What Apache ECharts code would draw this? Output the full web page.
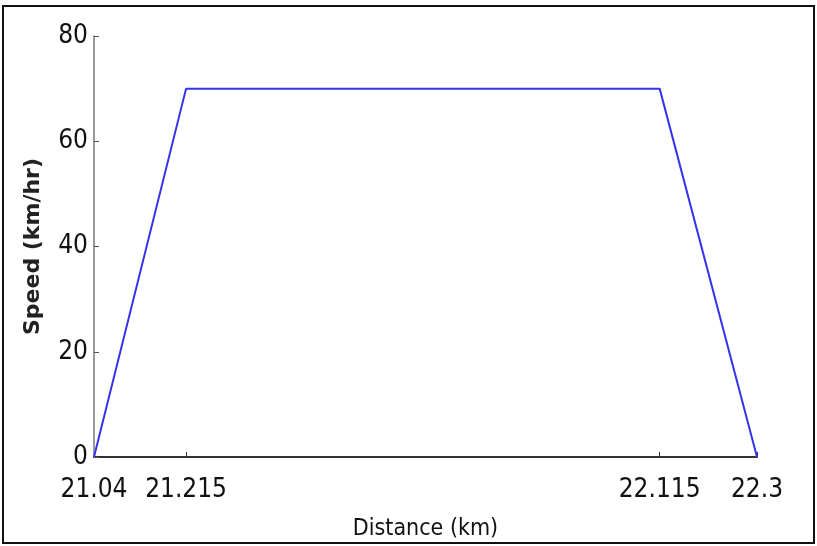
<!DOCTYPE html>
<html>
<head>
<meta charset="utf-8">
<script src="https://cdn.jsdelivr.net/npm/echarts@6/dist/echarts.min.js"></script>
<style>
  html, body { margin: 0; padding: 0; background: #fff; }
  #main { width: 817px; height: 546px; }
</style>
</head>
<body>
<div id="main"></div>
<script>
// values
var distance = [21.04, 21.215, 22.115, 22.3];
var speed = [0, 70, 70, 0];
var xTicks = [21.04, 21.215, 22.115, 22.3];
var yTicks = [0, 20, 40, 60, 80];

var chart = echarts.init(document.getElementById('main'));
var narrow = '"DejaVu Sans Condensed", "Liberation Sans Narrow", "Liberation Sans", Arial, sans-serif';

var pts = distance.map(function (d, i) { return [d, speed[i]]; });

var option = {
    animation: false,
    backgroundColor: '#fff',
    grid: { left: 94, right: 60, top: 36, bottom: 87 },
    xAxis: {
        type: 'value',
        min: 21.04,
        max: 22.3,
        name: 'Distance (km)',
        nameLocation: 'middle',
        nameGap: 61,
        nameTextStyle: { fontFamily: narrow, fontSize: 23, color: '#111' },
        axisLine: { show: true, lineStyle: { color: '#333', width: 2 } },
        axisTick: { show: true, inside: true, length: 5, customValues: xTicks, lineStyle: { color: '#333' } },
        axisLabel: {
            customValues: xTicks,
            fontFamily: narrow, fontSize: 26, color: '#111', margin: 20,
            formatter: function (v) { return String(v); }
        },
        splitLine: { show: false }
    },
    yAxis: {
        type: 'value',
        min: yTicks[0],
        max: yTicks[yTicks.length - 1],
        interval: 20,
        name: 'Speed (km/hr)',
        nameLocation: 'middle',
        nameGap: 50,
        nameRotate: 90,
        nameTextStyle: { fontFamily: '"DejaVu Sans", sans-serif', fontWeight: 'bold', fontSize: 22, color: '#222' },
        axisLine: { show: true, lineStyle: { color: '#777', width: 1.5 } },
        axisTick: { show: true, inside: true, length: 5, lineStyle: { color: '#555' } },
        axisLabel: { fontFamily: narrow, fontSize: 26, color: '#111', margin: 6 },
        splitLine: { show: false }
    },
    graphic: [{
        type: 'rect',
        silent: true,
        shape: { x: 3, y: 6, width: 811, height: 537 },
        style: { fill: 'none', stroke: '#111', lineWidth: 2 }
    }],
    series: [{
        type: 'line',
        data: pts,
        symbol: 'none',
        lineStyle: { color: '#3434ec', width: 2 },
        z: 3
    }]
};
chart.setOption(option);
</script>
</body>
</html>
